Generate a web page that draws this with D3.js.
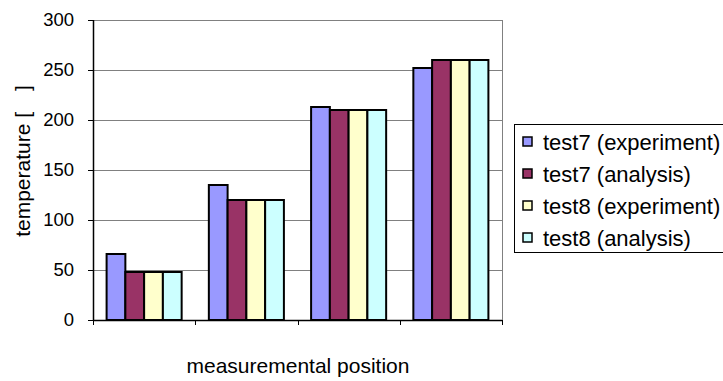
<!DOCTYPE html>
<html>
<head>
<meta charset="utf-8">
<script src="https://cdn.jsdelivr.net/npm/d3@7"></script>
<style>
  body { margin: 0; background: #fff; }
  svg { display: block; font-family: "Liberation Sans", Arial, sans-serif; }
</style>
</head>
<body>
<svg id="svg" width="723" height="381"></svg>
<script>
"use strict";

const positions = ["P1", "P2", "P3", "P4"];
const seriesNames = ["test7 (experiment)", "test7 (analysis)", "test8 (experiment)", "test8 (analysis)"];
const test7Experiment = [66, 135, 213, 252];
const test7Analysis = [48, 120, 210, 260];
const test8Experiment = [48, 120, 210, 260];
const test8Analysis = [48, 120, 210, 260];
const yTicks = [0, 50, 100, 150, 200, 250, 300];
const colors = ["#9999ff", "#993366", "#ffffcc", "#ccffff"];

const seriesValues = [test7Experiment, test7Analysis, test8Experiment, test8Analysis];

const plotLeft = 93, plotRight = 502, plotTop = 20, plotBottom = 320;

var svg = d3.select("svg");

var x = d3.scaleBand()
    .domain(positions)
    .range([plotLeft, plotRight])
    .paddingInner(0.266)
    .paddingOuter(0.133);

var xs = d3.scaleBand()
    .domain(seriesNames)
    .range([0, x.bandwidth()]);

var y = d3.scaleLinear()
    .domain([0, 300])
    .range([plotBottom, plotTop]);

// gridlines
svg.append("g")
    .selectAll("line")
    .data(yTicks.filter(d => d > 0))
    .enter()
    .append("line")
        .attr("x1", plotLeft)
        .attr("x2", plotRight)
        .attr("y1", d => y(d) + 0.5)
        .attr("y2", d => y(d) + 0.5)
        .attr("stroke", "#808080")
        .attr("stroke-width", 1);

// frame right side
svg.append("line")
    .attr("x1", plotRight + 0.5).attr("x2", plotRight + 0.5)
    .attr("y1", plotTop).attr("y2", plotBottom)
    .attr("stroke", "#808080");

// bars
var groups = svg.append("g")
    .selectAll("g")
    .data(positions)
    .enter()
    .append("g")
        .attr("transform", d => "translate(" + x(d) + ",0)");

groups.selectAll("rect")
    .data((d, i) => seriesNames.map((s, j) => ({ name: s, value: seriesValues[j][i], k: j })))
    .enter()
    .append("rect")
        .attr("x", d => xs(d.name))
        .attr("y", d => y(d.value))
        .attr("width", xs.bandwidth())
        .attr("height", d => plotBottom - y(d.value))
        .attr("fill", d => colors[d.k])
        .attr("stroke", "#000")
        .attr("stroke-width", 2);

// y axis
var yAxis = svg.append("g")
    .attr("transform", "translate(" + plotLeft + ",0)")
    .call(d3.axisLeft(y).tickValues(yTicks).tickSize(5).tickPadding(14));
yAxis.select(".domain").attr("stroke", "#000").attr("stroke-width", 1.5).attr("d", "M0.5," + plotTop + "V" + plotBottom);
yAxis.selectAll(".tick line").attr("stroke", "#000");
yAxis.selectAll(".tick text")
    .attr("font-size", 18.5)
    .attr("font-family", "Liberation Sans, Arial, sans-serif")
    .attr("fill", "#000");

// x axis: line with ticks at category boundaries
svg.append("line")
    .attr("x1", plotLeft).attr("x2", plotRight)
    .attr("y1", plotBottom + 0.5).attr("y2", plotBottom + 0.5)
    .attr("stroke", "#000").attr("stroke-width", 1.5);

var step = x.step();
var boundaries = d3.range(positions.length + 1).map(i => plotLeft + i * step);
svg.append("g")
    .selectAll("line")
    .data(boundaries)
    .enter()
    .append("line")
        .attr("x1", d => Math.round(d) + 0.5)
        .attr("x2", d => Math.round(d) + 0.5)
        .attr("y1", plotBottom)
        .attr("y2", plotBottom + 5)
        .attr("stroke", "#000");

// axis titles
svg.append("text")
    .attr("transform", "translate(30,161) rotate(-90)")
    .attr("text-anchor", "middle")
    .attr("font-size", 21)
    .text("temperature [\u3000]");

svg.append("text")
    .attr("x", 298)
    .attr("y", 373)
    .attr("text-anchor", "middle")
    .attr("font-size", 21)
    .text("measuremental position");

// legend
var legend = svg.append("g");
legend.append("rect")
    .attr("x", 514.5)
    .attr("y", 124.5)
    .attr("width", 260)
    .attr("height", 128)
    .attr("fill", "#fff")
    .attr("stroke", "#000")
    .attr("stroke-width", 1);

var item = legend.selectAll(".item")
    .data(seriesNames)
    .enter()
    .append("g")
        .attr("class", "item")
        .attr("transform", (d, i) => "translate(523," + (142 + i * 32) + ")");

item.append("rect")
    .attr("x", 0)
    .attr("y", -5)
    .attr("width", 9)
    .attr("height", 9)
    .attr("fill", (d, i) => colors[i])
    .attr("stroke", "#000")
    .attr("stroke-width", 1.5);

item.append("text")
    .attr("x", 20)
    .attr("y", 8)
    .attr("font-size", 22)
    .text(d => d);
</script>
</body>
</html>
